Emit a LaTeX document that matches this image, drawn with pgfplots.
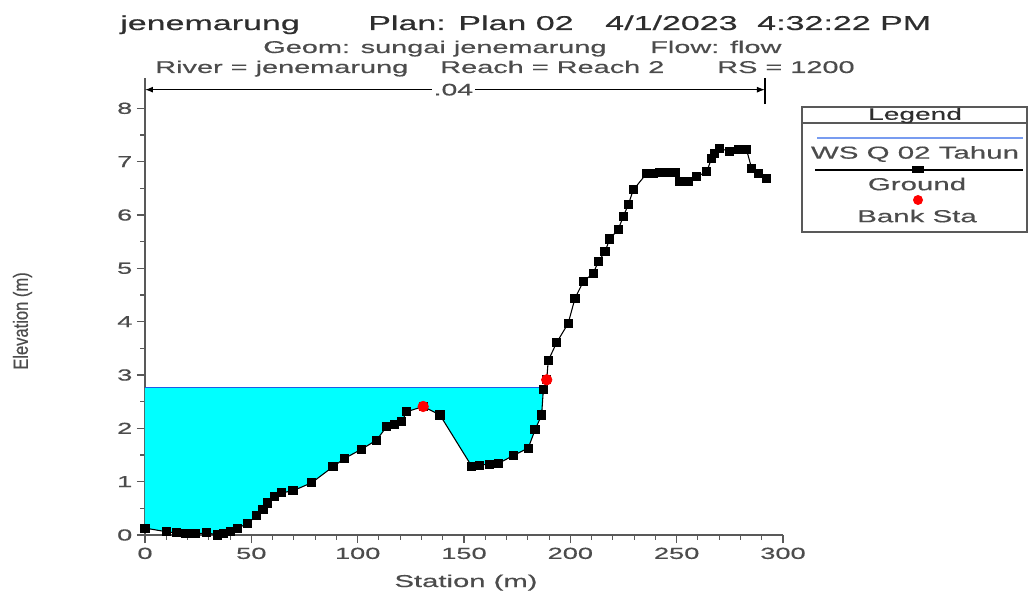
\documentclass[border=0pt]{standalone}
\usepackage{pgfplots}
\pgfplotsset{compat=1.18}
\usepackage{pgfplotstable}
\usepackage{graphicx}
\usepackage{fontspec}
\setmainfont{Liberation Sans}[FakeStretch=1.7, FakeBold=0.5]
\newfontfamily\plainsans{Liberation Sans}[FakeBold=0.5]
\usetikzlibrary{arrows.meta}
\definecolor{txt}{gray}{0.3}
\definecolor{ttl}{gray}{0.18}
\definecolor{axc}{gray}{0.35}
\definecolor{wsline}{RGB}{30,90,230}
\definecolor{wcyan}{RGB}{0,255,255}

\pgfplotstableread{
x y
0 0.13
10.2 0.06
14.9 0.04
19 0.03
23.5 0.02
29 0.04
34.3 0.0
37 0.02
40 0.06
43.7 0.13
48.4 0.22
52.5 0.37
55.5 0.47
57.8 0.6
61 0.72
64.3 0.79
69.6 0.83
78.4 0.98
88.4 1.28
94 1.44
101.9 1.61
108.9 1.78
113.6 2.03
117.5 2.08
120.7 2.12
123 2.31
130.8 2.41
138.7 2.25
153.6 1.29
157.5 1.31
162 1.33
166.1 1.34
173.2 1.49
180.2 1.63
183.4 1.97
186.5 2.25
187.3 2.72
188.9 2.91
189.6 3.27
193.6 3.61
199 3.97
202.2 4.44
206.1 4.75
210.8 4.91
213.1 5.12
216.3 5.31
218.5 5.55
222.5 5.73
224.9 5.97
227.2 6.19
229.6 6.47
235.9 6.78
239 6.78
242.1 6.79
245.5 6.79
249.2 6.79
251.5 6.62
255.4 6.62
259.4 6.72
264.1 6.81
266.4 7.06
268 7.16
270.3 7.25
275 7.19
278.9 7.22
282.9 7.22
285.2 6.88
288.3 6.78
292.3 6.69
}\ground

\pgfplotstableread{
x y
0 2.76
0 0.13
10.2 0.06
14.9 0.04
19 0.03
23.5 0.02
29 0.04
34.3 0.0
37 0.02
40 0.06
43.7 0.13
48.4 0.22
52.5 0.37
55.5 0.47
57.8 0.6
61 0.72
64.3 0.79
69.6 0.83
78.4 0.98
88.4 1.28
94 1.44
101.9 1.61
108.9 1.78
113.6 2.03
117.5 2.08
120.7 2.12
123 2.31
130.8 2.41
138.7 2.25
153.6 1.29
157.5 1.31
162 1.33
166.1 1.34
173.2 1.49
180.2 1.63
183.4 1.97
186.5 2.25
187.3 2.72
187.55 2.76
}\water

\begin{document}
\begin{tikzpicture}
\begin{axis}[
  at={(0,0)}, anchor=south west,
  scale only axis, width=478.5pt, height=342.4pt,
  xmin=0, xmax=300, ymin=0, ymax=8.56,
  axis x line*=bottom, axis y line*=left,
  axis line style={axc, line width=1.2pt},
  xtick={0,50,...,300}, ytick={0,1,...,8},
  minor x tick num=4, minor y tick num=1,
  tick align=outside, major tick length=6pt, minor tick length=3.5pt,
  every tick/.style={axc, line width=0.8pt},
  ticklabel style={font=\fontsize{12}{14}\selectfont, text=txt},
  /pgf/number format/assume math mode=true,
  clip=false,
]
\addplot[fill=wcyan, draw=none] table[x=x, y=y] {\water};
\addplot[wsline, line width=1pt] coordinates {(0,2.76) (187.55,2.76)};
\addplot[black, line width=0.8pt, mark=square*, mark size=3pt, mark options={solid}] table[x=x, y=y] {\ground};
\addplot[only marks, mark=*, mark size=4pt, red] coordinates {(130.8,2.41) (188.9,2.91)};
\draw[black, line width=0.8pt, {Latex[length=6pt,width=4.5pt]}-{Latex[length=6pt,width=4.5pt]}] (axis cs:0,8.35) -- (axis cs:291.5,8.35);
\draw[black, line width=1.1pt] (axis cs:291.5,8.08) -- (axis cs:291.5,8.56);
\node[fill=white, inner sep=1.5pt, font=\fontsize{12.5}{14}\selectfont, text=txt] at (axis cs:145,8.35) {.04};
\end{axis}
\begin{scope}[x=0.75pt, y=-0.75pt, xshift=-108.75pt, yshift=401.25pt]
\useasboundingbox (0,0) rectangle (1034,592);
% title lines
\begin{scope}[every node/.style={inner sep=0pt, anchor=base west}]
\node[font=\fontsize{15}{18}\selectfont, text=ttl] at (120,30) {jenemarung};
\node[font=\fontsize{15}{18}\selectfont, text=ttl] at (368,30) {Plan: Plan 02};
\node[font=\fontsize{15}{18}\selectfont, text=ttl] at (605,30) {4/1/2023};
\node[font=\fontsize{15}{18}\selectfont, text=ttl] at (757,30) {4:32:22 PM};
\node[font=\fontsize{12.75}{15}\selectfont, text=txt] at (263,53) {Geom: sungai jenemarung};
\node[font=\fontsize{12.75}{15}\selectfont, text=txt] at (650,53) {Flow: flow};
\node[font=\fontsize{12.75}{15}\selectfont, text=txt] at (155,73) {River = jenemarung};
\node[font=\fontsize{12.75}{15}\selectfont, text=txt] at (440,73) {Reach = Reach 2};
\node[font=\fontsize{12.75}{15}\selectfont, text=txt] at (717,73) {RS = 1200};
\end{scope}
% axis labels
\node[inner sep=0pt, anchor=base, font=\fontsize{12.9}{15}\selectfont, text=txt] at (466,587) {Station (m)};
\node[inner sep=0pt, rotate=90, text=txt] at (22.5,321) {\scalebox{1}[1.25]{\plainsans\fontsize{12.4}{14}\selectfont Elevation (m)}};
% legend
\draw[gray!70!black, line width=1.2pt] (802,107) rectangle (1027,232);
\draw[gray!70!black, line width=0.8pt] (802,123) -- (1027,123);
\node[inner sep=0pt, font=\fontsize{12.4}{14}\selectfont, text=ttl] at (915,115.5) {Legend};
\draw[wsline!60, line width=1pt] (817,138) -- (1023,138);
\node[inner sep=0pt, font=\fontsize{13}{15}\selectfont, text=txt] at (915,154) {WS Q 02 Tahun};
\draw[black, line width=0.8pt] (815,170) -- (1023,170);
\fill[black] (912,166.5) rectangle (924,173.5);
\node[inner sep=0pt, font=\fontsize{13}{15}\selectfont, text=txt] at (917,184) {Ground};
\fill[red] (918,200) circle (5);
\node[inner sep=0pt, font=\fontsize{13}{15}\selectfont, text=txt] at (917,216) {Bank Sta};
\end{scope}
\end{tikzpicture}
\end{document}
